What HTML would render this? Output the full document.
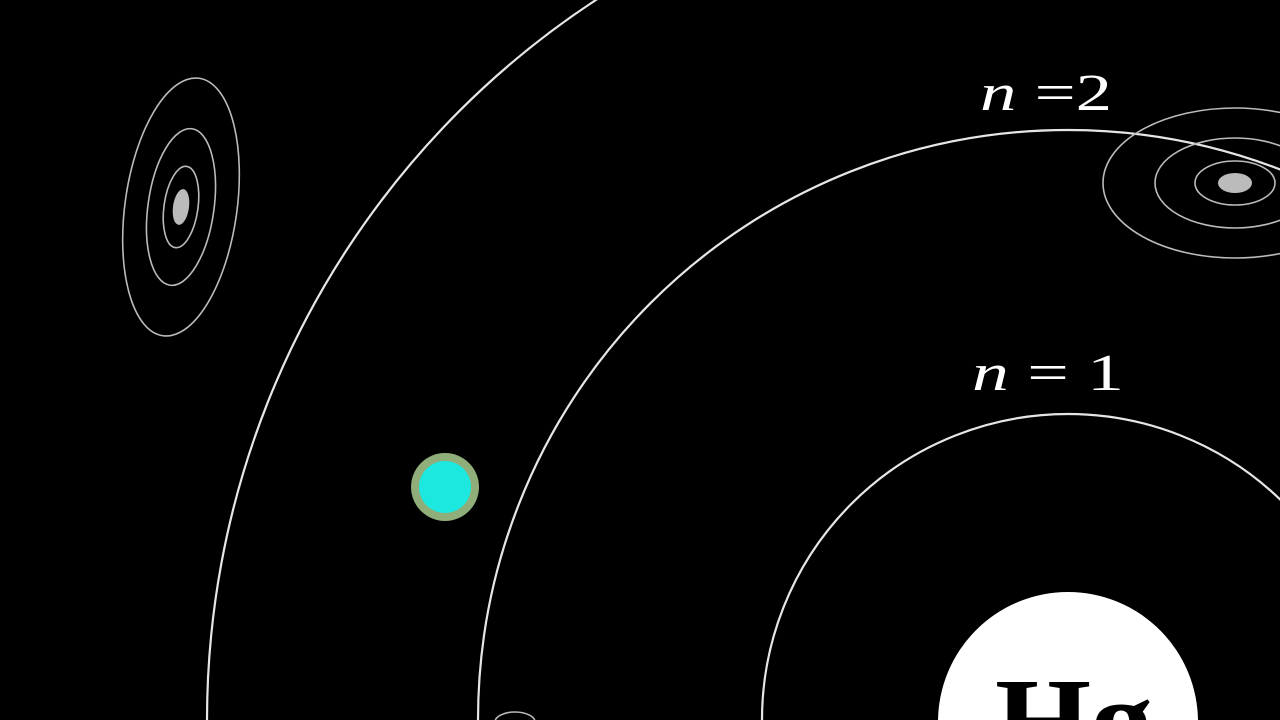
<!DOCTYPE html>
<html><head><meta charset="utf-8"><style>
html,body{margin:0;padding:0;background:#000;width:1280px;height:720px;overflow:hidden}
svg{display:block}
</style></head><body>
<svg width="1280" height="720" viewBox="0 0 1280 720" xmlns="http://www.w3.org/2000/svg">
<rect width="1280" height="720" fill="#000"/>
<g fill="none" stroke="#e6e6e6" stroke-width="2.2">
<circle cx="1068" cy="720" r="861"/>
<circle cx="1068" cy="720" r="590"/>
<circle cx="1068" cy="720" r="306"/>
</g>
<circle cx="1068" cy="722" r="130" fill="#fff"/>
<text x="995" y="762" textLength="158" lengthAdjust="spacingAndGlyphs" font-family="Liberation Serif, serif" font-weight="bold" font-size="122" fill="#000">Hg</text>
<text x="980" y="110" textLength="132" lengthAdjust="spacingAndGlyphs" font-family="Liberation Serif, serif" font-size="52" fill="#fff"><tspan font-style="italic">n</tspan> =2</text>
<text x="972" y="390" textLength="152" lengthAdjust="spacingAndGlyphs" font-family="Liberation Serif, serif" font-size="52" fill="#fff"><tspan font-style="italic">n</tspan> = 1</text>
<g transform="translate(181,207) rotate(8)" fill="none" stroke="#bbb" stroke-width="1.6">
<ellipse rx="56" ry="130"/><ellipse rx="33" ry="79"/><ellipse rx="17" ry="41"/>
<ellipse rx="8" ry="18" fill="#bbb" stroke="none"/>
</g>
<g transform="translate(1235,183)" fill="none" stroke="#bbb" stroke-width="1.6">
<ellipse rx="132" ry="75"/><ellipse rx="80" ry="45"/><ellipse rx="40" ry="22"/>
<ellipse rx="17" ry="10" fill="#bbb" stroke="none"/>
</g>
<g fill="none" stroke="#bbb" stroke-width="1.6">
<ellipse cx="515" cy="722" rx="20" ry="10"/>
</g>
<circle cx="445" cy="487" r="34" fill="#8fae7a"/>
<circle cx="445" cy="487" r="26" fill="#1de8e0"/>
</svg>
</body></html>
